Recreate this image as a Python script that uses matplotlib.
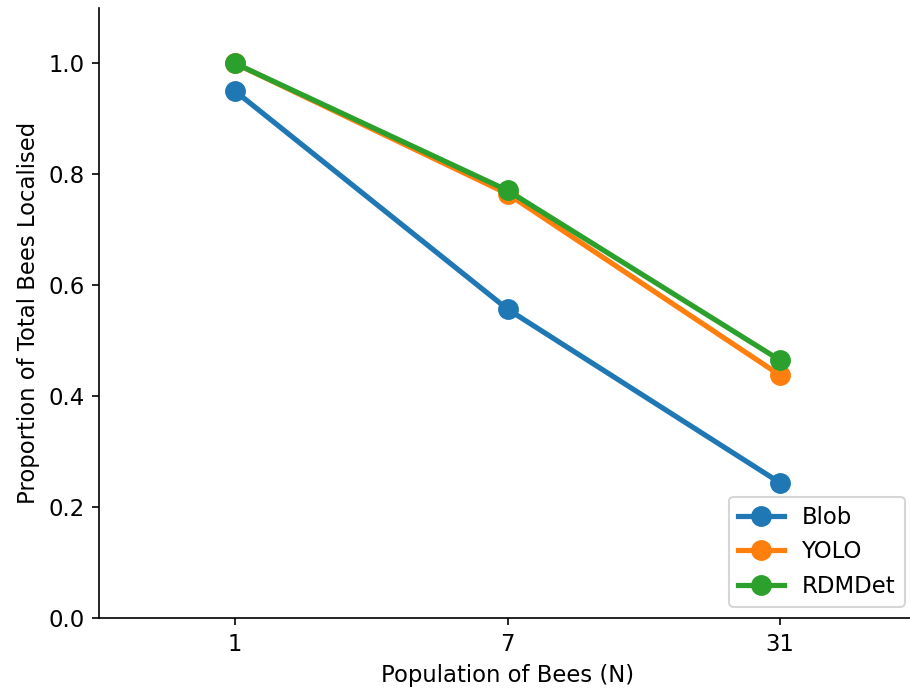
import matplotlib.pyplot as plt

populations = ['1', '7', '31']
blob = [0.95, 0.557, 0.244]
yolo = [1.0, 0.765, 0.438]
rdmdet = [1.0, 0.771, 0.465]

series = [('Blob', blob, '#1f77b4'), ('YOLO', yolo, '#ff7f0e'), ('RDMDet', rdmdet, '#2ca02c')]

plt.rcParams['font.size'] = 10.9

fig = plt.figure(figsize=(910 / 150, 691 / 150), dpi=150)
# axes run slightly past the right edge of the saved image, as in the reference crop
ax = fig.add_axes([99 / 910, 1 - 618 / 691, (916 - 99) / 910, (618 - 8) / 691])

x = list(range(len(populations)))
for name, vals, color in series:
    ax.plot(x, vals, color=color, linewidth=2.5, marker='o', markersize=9, label=name)

ax.set_xticks(x)
ax.set_xticklabels(populations)
ax.set_xlim(-0.5, 2.5)
ax.set_ylim(0, 1.1)
ax.set_xlabel('Population of Bees (N)')
ax.set_ylabel('Proportion of Total Bees Localised')
ax.spines['top'].set_visible(False)
ax.spines['right'].set_visible(False)
ax.legend(loc='lower right', fontsize=10.9)

plt.savefig('out.png', dpi=150)
